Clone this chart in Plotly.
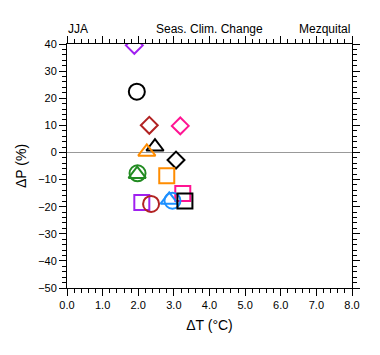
import plotly.graph_objects as go

# Data
dT = [1.89, 1.96, 2.31, 3.18, 2.47, 2.24, 3.06, 1.98, 1.97, 2.80, 3.25, 2.96, 2.87, 3.31, 2.10, 2.36]
dP = [39.5, 22.4, 10.0, 9.8, 2.1, 0.2, -2.8, -7.7, -8.0, -8.6, -15.1, -17.8, -17.5, -17.9, -18.5, -19.0]
symbols = ["diamond-open", "circle-open", "diamond-open", "diamond-open", "triangle-up-open",
           "triangle-up-open", "diamond-open", "circle-open", "triangle-up-open", "square-open",
           "square-open", "circle-open", "triangle-up-open", "square-open", "square-open", "circle-open"]
colors = ["#a020f0", "#000000", "#b22222", "#ff1493", "#000000", "#ff8c00", "#000000", "#228b22",
          "#228b22", "#ff8c00", "#ff1493", "#1e90ff", "#1e90ff", "#000000", "#a020f0", "#b22222"]

size_map = {"circle-open": 16, "square-open": 15, "diamond-open": 13, "triangle-up-open": 15}

fig = go.Figure()
for x, y, s, c in zip(dT, dP, symbols, colors):
    fig.add_trace(go.Scatter(
        x=[x], y=[y], mode="markers",
        marker=dict(symbol=s, size=size_map[s], color=c, line=dict(color=c, width=2)),
        showlegend=False, hoverinfo="skip"))

font = "Liberation Sans, Arial, sans-serif"
axis_common = dict(
    showline=True, linecolor="black", linewidth=1, mirror="allticks",
    ticks="outside", ticklen=7, tickwidth=1, tickcolor="black",
    showgrid=False, automargin=False,
    tickfont=dict(family=font, size=11, color="black"),
)
fig.update_xaxes(
    range=[0, 8], tick0=0, dtick=1, tickformat=".1f", zeroline=False,
    minor=dict(ticks="outside", ticklen=4, tickwidth=1, tickcolor="black", dtick=0.2, showgrid=False),
    title=dict(text="ΔT (°C)", font=dict(family=font, size=14, color="black"), standoff=9),
    **axis_common)
fig.update_yaxes(
    range=[-50, 40], tick0=0, dtick=10, zeroline=True, zerolinecolor="#999999", zerolinewidth=1.2,
    minor=dict(ticks="outside", ticklen=4, tickwidth=1, tickcolor="black", dtick=2, showgrid=False),
    title=dict(text="ΔP (%)", font=dict(family=font, size=14, color="black"), standoff=8),
    **axis_common)

ann_font = dict(family=font, size=12, color="black")
fig.update_layout(
    width=372, height=347,
    margin=dict(l=59, r=28, t=36, b=67),
    paper_bgcolor="white", plot_bgcolor="white",
    annotations=[
        dict(text="JJA", x=0, y=1, xref="paper", yref="paper", xanchor="left", yanchor="bottom",
             showarrow=False, font=ann_font, yshift=6, xshift=-1),
        dict(text="Seas. Clim. Change", x=0.5, y=1, xref="paper", yref="paper", xanchor="center",
             yanchor="bottom", showarrow=False, font=ann_font, yshift=6),
        dict(text="Mezquital", x=1, y=1, xref="paper", yref="paper", xanchor="right", yanchor="bottom",
             showarrow=False, font=ann_font, yshift=6),
    ],
)

fig.write_html("out.html")
